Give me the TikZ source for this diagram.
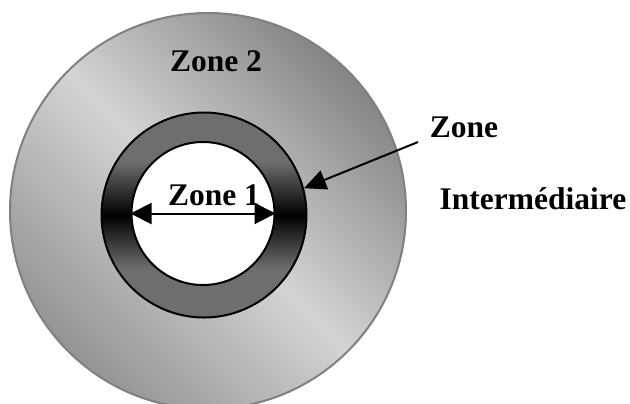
\documentclass[tikz,border=0pt]{standalone}
\usepackage{fontspec}
\setmainfont{Liberation Serif}
\usetikzlibrary{arrows.meta}

\colorlet{ringgray}{black!57}
\pgfdeclareverticalshading{ringshade}{100bp}{color(0bp)=(ringgray); color(37bp)=(ringgray); color(50bp)=(black); color(63bp)=(ringgray); color(100bp)=(ringgray)}

\tikzset{
  zonelabel/.style={anchor=base, inner sep=0pt, font=\fontsize{15.75}{18}\selectfont\bfseries},
  zonedisc/.style={circle, inner sep=0pt, line width=1pt}
}

\begin{document}
\begin{tikzpicture}[x=0.5pt,y=-0.5pt]

	\useasboundingbox (0,0) rectangle (630,403);

	\node [zonedisc, draw=black!50, minimum size=198pt, shading=axis, top color=black!48, bottom color=black!42, middle color=black!17, shading angle=-45] (outer) at (208,211) {};
	\node [zonedisc, draw, minimum size=102.5pt, shading=ringshade] (ring) at (204,215) {};
	\node [zonedisc, draw, fill=white, minimum size=71.5pt] (inner) at (203,213.5) {};

	\node [zonelabel] (zone1) at (214,205) {Zone 1};
	\node [zonelabel] (zone2) at (216,71.5) {Zone 2};
	\node [zonelabel] (zonetop) at (464,137) {Zone};
	\node [zonelabel] (zonebottom) at (533,209) {Intermédiaire};

	\draw [line width=1pt, {Triangle[length=10.5pt,width=10.5pt]}-{Triangle[length=10.5pt,width=10.5pt]}] (inner.west) -- (inner.east);

	\coordinate (calloutstart) at (418,142);
	\draw [line width=1pt, -{Triangle[length=11pt,width=10pt]}] (calloutstart) -- (ring.15);

\end{tikzpicture}
\end{document}
